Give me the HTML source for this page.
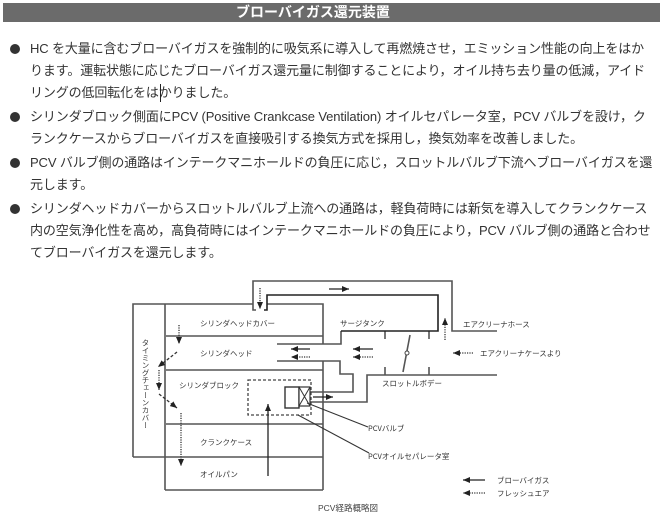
<!DOCTYPE html>
<html><head><meta charset="utf-8">
<style>
html,body{margin:0;padding:0;background:#fff;}
body{width:662px;height:516px;position:relative;overflow:hidden;font-family:"Liberation Sans","Noto Sans CJK JP",sans-serif;}
.bar{position:absolute;left:3px;top:3px;width:657px;height:19px;background:#6b6b6b;}
.title{position:absolute;left:236px;top:3px;height:19px;line-height:19px;font-size:14px;font-weight:bold;color:#fff;white-space:nowrap;font-family:"Liberation Sans","Noto Sans CJK JP",sans-serif;}
.ln{position:absolute;left:30px;height:22px;line-height:22px;font-size:13px;color:#333;white-space:nowrap;letter-spacing:-0.12px;}
.bl{position:absolute;left:10px;width:10px;height:10px;border-radius:50%;background:#333;}
.vt{position:absolute;left:141px;top:339px;writing-mode:vertical-rl;font-size:7.5px;line-height:8px;color:#333;font-family:"Noto Sans CJK JP",sans-serif;white-space:nowrap;}
svg{position:absolute;left:0;top:0;}
</style></head><body>
<div class="bar"></div>
<div class="title">ブローバイガス還元装置</div>

<div class="bl" style="top:44px"></div>
<div class="ln" style="top:38px">HC を大量に含むブローバイガスを強制的に吸気系に導入して再燃焼させ，エミッション性能の向上をはか</div>
<div class="ln" style="top:60px">ります。運転状態に応じたブローバイガス還元量に制御することにより，オイル持ち去り量の低減，アイド</div>
<div class="ln" style="top:82px">リングの低回転化をはかりました。</div>
<div style="position:absolute;left:160px;top:84px;width:1px;height:18px;background:#222;"></div>

<div class="bl" style="top:112px"></div>
<div class="ln" style="top:106px">シリンダブロック側面にPCV (Positive Crankcase Ventilation) オイルセパレータ室，PCV バルブを設け，ク</div>
<div class="ln" style="top:128px">ランクケースからブローバイガスを直接吸引する換気方式を採用し，換気効率を改善しました。</div>

<div class="bl" style="top:158px"></div>
<div class="ln" style="top:152px">PCV バルブ側の通路はインテークマニホールドの負圧に応じ，スロットルバルブ下流へブローバイガスを還</div>
<div class="ln" style="top:174px">元します。</div>

<div class="bl" style="top:204px"></div>
<div class="ln" style="top:198px">シリンダヘッドカバーからスロットルバルブ上流への通路は，軽負荷時には新気を導入してクランクケース</div>
<div class="ln" style="top:220px">内の空気浄化性を高め，高負荷時にはインテークマニホールドの負圧により，PCV バルブ側の通路と合わせ</div>
<div class="ln" style="top:242px">てブローバイガスを還元します。</div>

<div class="vt">タイミングチェーンカバー</div>

<svg width="662" height="516" viewBox="0 0 662 516" xmlns="http://www.w3.org/2000/svg">
<defs>
<marker id="ah" markerWidth="7" markerHeight="6" refX="7" refY="3" orient="auto" markerUnits="userSpaceOnUse">
<path d="M0,0 L7,3 L0,6 z" fill="#222"/>
</marker>
</defs>
<g fill="none" stroke="#555" stroke-width="1.6">
<!-- engine -->
<polyline points="253,304 133,304 133,457"/>
<line x1="165" y1="304" x2="165" y2="490"/>
<line x1="133" y1="457" x2="323" y2="457"/>
<line x1="165" y1="490" x2="323" y2="490"/>
<polyline points="267,304 323,304 323,344"/>
<line x1="323" y1="361" x2="323" y2="490"/>
<line x1="166" y1="336" x2="323" y2="336"/>
<line x1="166" y1="370" x2="323" y2="370"/>
<line x1="166" y1="424" x2="323" y2="424"/>
<!-- outer pipe -->
<polyline points="256,310 253,310 253,281 452,281 452,331 497,331"/>
<!-- intake -->
<polyline points="341,331 341,344 277,344"/>
<polyline points="277,361 340,361 340,374 353,374 353,392 310,392"/>
<polyline points="310,402 367,402 367,375 497,375"/>
<!-- throttle ticks -->
<line x1="385" y1="331" x2="385" y2="339"/>
<line x1="429" y1="331" x2="429" y2="339"/>
<line x1="385" y1="367" x2="385" y2="375"/>
<line x1="429" y1="367" x2="429" y2="375"/>
<line x1="410" y1="335" x2="403" y2="372"/>
</g>
<polyline points="264,310 267,310 267,295 438,295 438,331 341,331" fill="none" stroke="#222" stroke-width="1.6"/>
<circle cx="407" cy="353" r="2" fill="#fff" stroke="#444" stroke-width="1"/>
<!-- PCV valve -->
<rect x="285" y="387" width="14" height="21" fill="#fff" stroke="#333" stroke-width="1.4"/>
<rect x="299" y="387" width="11" height="19" fill="#fff" stroke="#333" stroke-width="1.2"/>
<line x1="299" y1="387" x2="310" y2="406" stroke="#333" stroke-width="1"/>
<line x1="310" y1="387" x2="299" y2="406" stroke="#333" stroke-width="1"/>
<!-- separator dashed -->
<rect x="248" y="380" width="63" height="35" fill="none" stroke="#444" stroke-width="1.3" stroke-dasharray="3 2"/>
<!-- leaders -->
<line x1="307" y1="403" x2="368" y2="427" stroke="#333" stroke-width="1"/>
<line x1="298" y1="415" x2="369" y2="453" stroke="#333" stroke-width="1"/>
<!-- arrows -->
<g stroke="#222" stroke-width="1.3" fill="none">
<line x1="329" y1="289" x2="349" y2="289" marker-end="url(#ah)"/>
<line x1="310" y1="349" x2="291" y2="349" marker-end="url(#ah)"/>
<line x1="373" y1="349" x2="353" y2="349" marker-end="url(#ah)"/>
<line x1="268" y1="476" x2="268" y2="404" marker-end="url(#ah)"/>
<line x1="313" y1="397" x2="333" y2="397" marker-end="url(#ah)"/>
<line x1="485" y1="480" x2="463" y2="480" marker-end="url(#ah)"/>
</g>
<g stroke="#333" stroke-width="1.3" fill="none" stroke-dasharray="1.2 1.2">
<line x1="260" y1="288" x2="260" y2="309" marker-end="url(#ah)"/>
<line x1="445" y1="340" x2="445" y2="318" marker-end="url(#ah)"/>
<line x1="310" y1="357" x2="291" y2="357" marker-end="url(#ah)"/>
<line x1="373" y1="357" x2="353" y2="357" marker-end="url(#ah)"/>
<line x1="473" y1="353" x2="453" y2="353" marker-end="url(#ah)"/>
<line x1="179" y1="325" x2="179" y2="344" marker-end="url(#ah)"/>
<line x1="159" y1="370" x2="159" y2="390" marker-end="url(#ah)"/>
<line x1="181" y1="413" x2="181" y2="466" marker-end="url(#ah)"/>
<line x1="485" y1="493" x2="463" y2="493" marker-end="url(#ah)"/>
</g>
<g stroke="#333" stroke-width="1.3" fill="none" stroke-dasharray="3 2">
<line x1="177" y1="352" x2="158" y2="367" marker-end="url(#ah)"/>
<line x1="159" y1="394" x2="177" y2="408" marker-end="url(#ah)"/>
</g>
<!-- labels -->
<g font-family="Noto Sans CJK JP, sans-serif" font-size="7.5" fill="#333">
<text x="200" y="326">シリンダヘッドカバー</text>
<text x="200" y="356">シリンダヘッド</text>
<text x="179" y="388">シリンダブロック</text>
<text x="200" y="445">クランクケース</text>
<text x="200" y="477">オイルパン</text>
<text x="340" y="326">サージタンク</text>
<text x="382" y="386">スロットルボデー</text>
<text x="463" y="327">エアクリーナホース</text>
<text x="480" y="356">エアクリーナケースより</text>
<text x="368" y="431">PCVバルブ</text>
<text x="368" y="459">PCVオイルセパレータ室</text>
<text x="497" y="483">ブローバイガス</text>
<text x="497" y="496">フレッシュエア</text>
</g>
<text x="318" y="511" font-family="Liberation Sans, Noto Sans CJK JP, sans-serif" font-size="8.5" fill="#444">PCV経路概略図</text>
</svg>
</body></html>
